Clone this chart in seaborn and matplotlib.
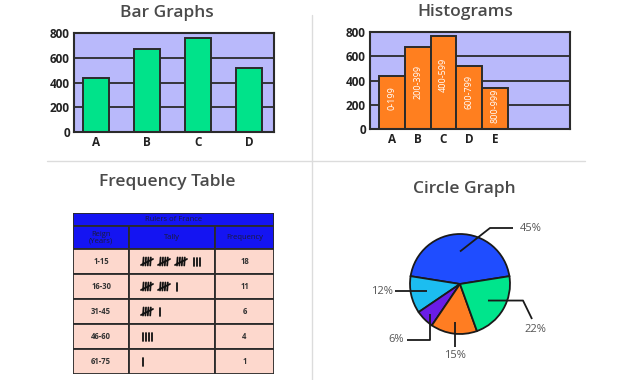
import numpy as np
import pandas as pd
import matplotlib
matplotlib.use("Agg")
import matplotlib.pyplot as plt
from matplotlib.lines import Line2D
from matplotlib.patches import Rectangle
import seaborn as sns

# ---- data ----
bar_cats = ["A", "B", "C", "D"]
bar_vals = [440, 670, 760, 515]

hist_cats = ["A", "B", "C", "D", "E"]
hist_vals = [440, 675, 765, 520, 335]
hist_bins = ["0-199", "200-399", "400-599", "600-799", "800-999"]

table_title = "Rulers of France"
table_cols = ["Reign\n(Years)", "Tally", "Frequency"]
reign = ["1-15", "16-30", "31-45", "46-60", "61-75"]
freq = [18, 11, 6, 4, 1]

pie_vals = [45, 12, 6, 15, 22]
pie_labels = ["45%", "12%", "6%", "15%", "22%"]
pie_colors = ["#1f4dff", "#1cbdf0", "#6a1de6", "#ff7d22", "#00e58c"]

W, H = 630, 380
sns.set_style("white")
plt.rcParams["font.family"] = ["Open Sans", "DejaVu Sans"]

LAV = "#b9b9fb"
EDGE = "#2b2b2b"
TXT = "#4a4a4a"

fig = plt.figure(figsize=(W / 100, H / 100), dpi=100)


def px_axes(left, top, right, bottom):
    return fig.add_axes([left / W, 1 - bottom / H, (right - left) / W, (bottom - top) / H])


def style_chart(ax):
    ax.set_facecolor(LAV)
    ax.set_ylim(0, 800)
    ax.set_yticks([0, 200, 400, 600, 800])
    for y in [200, 400, 600]:
        ax.axhline(y, color=EDGE, lw=1.3, zorder=0.5)
    for s in ax.spines.values():
        s.set_color(EDGE)
        s.set_linewidth(1.5)
    ax.tick_params(length=0, pad=3, labelsize=8.5, colors="#222222")
    for lab in ax.get_xticklabels() + ax.get_yticklabels():
        lab.set_fontweight("bold")
    ax.set_xlabel("")
    ax.set_ylabel("")


# ---- bar graph ----
ax1 = px_axes(74, 33, 274, 132)
df_bar = pd.DataFrame({"cat": bar_cats, "val": bar_vals})
sns.barplot(data=df_bar, x="cat", y="val", color="#00e38a", saturation=1,
            width=0.51, edgecolor=EDGE, linewidth=1.4, zorder=2, ax=ax1)
ax1.set_xlim(-0.43, 3.49)
style_chart(ax1)

# ---- histogram ----
ax2 = px_axes(370, 32, 570, 129)
pos = np.arange(len(hist_cats))
sns.histplot(x=pos, weights=hist_vals, discrete=True, color="#ff7f1f", alpha=1,
             edgecolor=EDGE, linewidth=1.4, zorder=2, ax=ax2)
ax2.set_xlim(-0.85, 6.9)
ax2.set_xticks(pos)
ax2.set_xticklabels(hist_cats)
style_chart(ax2)
for x, v, b in zip(pos, hist_vals, hist_bins):
    ax2.text(x, v * 0.58, b, rotation=90, ha="center", va="center",
             color="white", fontsize=6.5, zorder=3)

# ---- titles ----
for txt, x, y in [("Bar Graphs", 167, 13), ("Histograms", 465, 12),
                  ("Frequency Table", 167, 182), ("Circle Graph", 464, 189)]:
    fig.text(x / W, 1 - y / H, txt, ha="center", va="center",
             fontsize=12.5, fontweight="semibold", color=TXT)

# ---- dividers ----
fig.add_artist(Line2D([312 / W, 312 / W], [1 - 15 / H, 0], color="#dcdcdc", lw=1))
fig.add_artist(Line2D([47 / W, 585 / W], [1 - 161 / H, 1 - 161 / H], color="#dcdcdc", lw=1))

# ---- frequency table ----
ax3 = px_axes(73, 213, 274, 374)
ax3.set_xlim(0, 201)
ax3.set_ylim(161, 0)
ax3.axis("off")
col_x = [0, 56, 142, 201]
row_h = (161 - 36) / len(reign)
blue = "#1414f2"
pink = "#fdd8cd"
lw = 1.3
head_txt = "#1a1a3a"
ax3.add_patch(Rectangle((0, 0), 201, 13, fc=blue, ec=EDGE, lw=lw))
ax3.text(100.5, 6.8, table_title, ha="center", va="center", fontsize=5.5, color=head_txt)
for i, c in enumerate(table_cols):
    ax3.add_patch(Rectangle((col_x[i], 13), col_x[i + 1] - col_x[i], 23, fc=blue, ec=EDGE, lw=lw))
    ax3.text((col_x[i] + col_x[i + 1]) / 2, 24.5, c, ha="center", va="center",
             fontsize=5.5, color=head_txt, linespacing=0.9)
for r, (rg, f) in enumerate(zip(reign, freq)):
    y0 = 36 + r * row_h
    yc = y0 + row_h / 2
    for i in range(3):
        ax3.add_patch(Rectangle((col_x[i], y0), col_x[i + 1] - col_x[i], row_h,
                                fc=pink, ec=EDGE, lw=lw))
    ax3.text(28, yc, rg, ha="center", va="center", fontsize=5.5, fontweight="bold", color="#333333")
    ax3.text(171.5, yc, str(f), ha="center", va="center", fontsize=5.5, fontweight="bold", color="#333333")
    # tally marks built from the frequency
    x = 70
    for g in range(f // 5):
        for k in range(4):
            ax3.plot([x + k * 2.4, x + k * 2.4 + 0.6], [yc + 4, yc - 4], color="#111111", lw=1.3)
        ax3.plot([x - 2, x + 10], [yc + 3.5, yc - 2.5], color="#111111", lw=1.3)
        x += 17
    for k in range(f % 5):
        ax3.plot([x + k * 3, x + k * 3], [yc - 4, yc + 4], color="#111111", lw=1.3)

# ---- circle graph ----
ax4 = px_axes(360, 184, 560, 384)
ax4.axis("off")
wedges, _ = ax4.pie(pie_vals, colors=pie_colors, startangle=9, radius=1,
                    wedgeprops=dict(edgecolor="#1a1a1a", linewidth=1.3))
ax4.set_xlim(-2, 2)
ax4.set_ylim(-2, 2)

# leader-line layout: start radius, elbow points, text position, alignment
layout = [
    (0.65, [(0.6, 1.12), (1.06, 1.12)], (1.2, 1.12), "left"),
    (0.68, [(-1.3, None)], (-1.34, -0.16), "right"),
    (0.85, [(None, -1.12), (-1.06, -1.12)], (-1.12, -1.12), "right"),
    (0.76, [(None, -1.26)], (None, -1.42), "center"),
    (0.65, [(1.26, None), (1.44, -0.7)], (1.5, -0.9), "center"),
]
for w, lab, (r0, pts, tpos, ha) in zip(wedges, pie_labels, layout):
    ang = np.deg2rad((w.theta1 + w.theta2) / 2)
    xs, ys = [r0 * np.cos(ang)], [r0 * np.sin(ang)]
    for px, py in pts:
        xs.append(xs[-1] if px is None else px)
        ys.append(ys[-1] if py is None else py)
    ax4.plot(xs, ys, color="#1a1a1a", lw=1.3, solid_capstyle="butt")
    tx = xs[-1] if tpos[0] is None else tpos[0]
    ax4.text(tx, tpos[1], lab, ha=ha, va="center", fontsize=8, color="#555555")

fig.savefig("out.png", dpi=100)
